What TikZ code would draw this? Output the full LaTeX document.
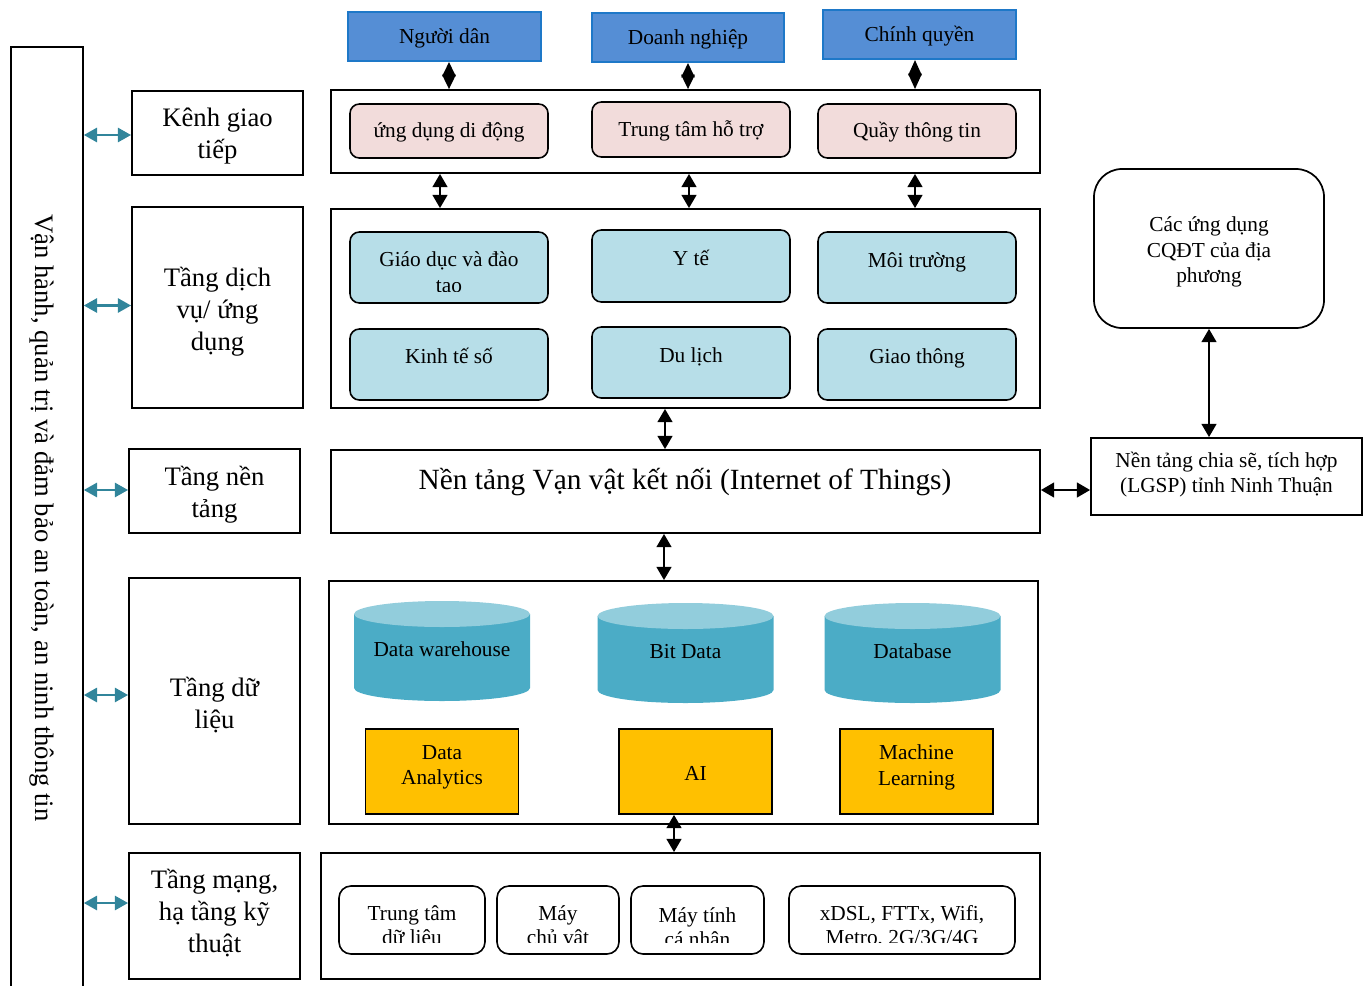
\documentclass[tikz,border=0pt]{standalone}
\usepackage{fontspec}
\setmainfont{Liberation Serif}
\usetikzlibrary{arrows.meta,calc}
\definecolor{bluefill}{RGB}{85,142,213}
\definecolor{blueline}{RGB}{30,120,200}
\definecolor{pinkfill}{RGB}{242,220,219}
\definecolor{lbfill}{RGB}{183,222,232}
\definecolor{cylbody}{RGB}{75,172,198}
\definecolor{cyltop}{RGB}{146,205,220}
\definecolor{orangefill}{RGB}{255,192,0}
\definecolor{tealarr}{RGB}{49,133,155}
\tikzset{
  wh/.style 2 args={minimum width=#1*0.75pt, minimum height=#2*0.75pt},
  box/.style={draw, line width=1.3pt, inner sep=0pt, align=center},
  f16/.style={font=\fontsize{16}{19}\selectfont, align=center, inner sep=0pt},
  f16b/.style={font=\fontsize{16}{18}\selectfont, align=center, inner sep=0pt},
  f20/.style={font=\fontsize{20}{24}\selectfont, align=center, inner sep=0pt},
  bluebox/.style={draw=blueline, fill=bluefill, line width=1.5pt, inner sep=0pt},
  pinkbox/.style={draw, fill=pinkfill, line width=1.2pt, rounded corners=7pt, inner sep=0pt},
  lbbox/.style={draw, fill=lbfill, line width=1.2pt, rounded corners=7pt, inner sep=0pt},
  whbox/.style={draw, fill=white, line width=1.2pt, rounded corners=9pt, inner sep=0pt},
  orbox/.style={draw, fill=orangefill, line width=1.2pt, inner sep=0pt},
  barr/.style={{Triangle[width=11pt,length=10pt]}-{Triangle[width=11pt,length=10pt]}, line width=2pt},
  darr/.style={{Triangle[width=10pt,length=10.8pt]}-{Triangle[width=10pt,length=10.8pt]}, line width=1.5pt},
  tarrow/.style={{Triangle[width=10.5pt,length=10pt]}-{Triangle[width=10.5pt,length=10pt]}, line width=2.2pt, draw=tealarr}
}
\begin{document}
\begin{tikzpicture}[x=0.75pt,y=-0.75pt]
\useasboundingbox (0,0) rectangle (1363,985);

% left vertical bar
\node[box, wh={72}{980}, anchor=north west] (bar) at (10,46) {};
\node[rotate=-90, font=\fontsize{20}{24}\selectfont, inner sep=0pt] (bartext) at (42,518) {Vận hành, quản trị và đảm bảo an toàn, an ninh thông tin};

% layer labels
\node[box, wh={171}{84}] (kenh) at (217.5,133) {};
\node[box, wh={171}{201}] (dichvu) at (217.5,307.5) {};
\node[box, wh={171}{84}] (nen) at (214.5,491) {};
\node[box, wh={171}{246}] (dulieu) at (214.5,701) {};
\node[box, wh={171}{126}] (mang) at (214.5,916) {};
\node[f20] (kenht) at ($(kenh.center)+(0,3.5)$) {Kênh giao\\tiếp};
\node[f20] (dichvut) at ($(dichvu.center)+(0,4)$) {Tầng dịch\\vụ/ ứng\\dụng};
\node[f20] (nent) at ($(nen.center)+(0,3.5)$) {Tầng nền\\tảng};
\node[f20] (dulieut) at ($(dulieu.center)+(0,4)$) {Tầng dữ\\liệu};
\node[f20] (mangt) at ($(mang.center)+(0,-3)$) {Tầng mạng,\\hạ tầng kỹ\\thuật};

\coordinate (kenhA) at ($(kenh.west)+(0,2)$);
\coordinate (dichvuA) at ($(dichvu.west)+(0,-2)$);
\coordinate (nenA) at ($(nen.west)+(0,-1)$);
\coordinate (dulieuA) at ($(dulieu.west)+(0,-6)$);
\coordinate (mangA) at ($(mang.west)+(0,-13)$);
\foreach \c in {kenhA,dichvuA,nenA,dulieuA,mangA}
  \draw[tarrow] (bar.east |- \c) -- (\c);

% top actors
\node[bluebox, wh={193}{49}] (nguoidan) at (444.5,36.5) {};
\node[bluebox, wh={192}{49}] (doanhnghiep) at (688,37.5) {};
\node[bluebox, wh={193}{49}] (chinhquyen) at (919.5,34.5) {};
\node[f16] (nguoidant) at ($(nguoidan.center)+(0,2)$) {Người dân};
\node[f16] (doanhnghiept) at ($(doanhnghiep.center)+(0,2)$) {Doanh nghiệp};
\node[f16] (chinhquyent) at ($(chinhquyen.center)+(0,2)$) {Chính quyền};

% channel layer
\node[box, wh={709}{83}] (kenhbox) at (685.5,131.5) {};
\node[pinkbox, wh={198}{54}] (app) at (449,131) {};
\node[pinkbox, wh={198}{55}] (ttht) at (691,129.5) {};
\node[pinkbox, wh={198}{54}] (quay) at (917,131) {};
\node[f16] (appt) at ($(app.center)+(0,1)$) {ứng dụng di động};
\node[f16] (ttht-t) at ($(ttht.center)+(0,1)$) {Trung tâm hỗ trợ};
\node[f16] (quayt) at ($(quay.center)+(0,1)$) {Quầy thông tin};

\draw[darr] (app |- nguoidan.south) -- (app |- kenhbox.north);
\draw[darr] (doanhnghiep.south) -- (doanhnghiep.south |- kenhbox.north);
\draw[darr, {Triangle[width=10pt,length=11.6pt]}-{Triangle[width=10pt,length=11.6pt]}] ($(quay |- chinhquyen.south)+(-2,0)$) -- ($(quay |- kenhbox.north)+(-2,0)$);

% service layer
\node[box, wh={709}{199}] (dvbox) at (685.5,308.5) {};
\draw[barr] ($(app |- kenhbox.south)+(-9,0)$) -- ($(app |- dvbox.north)+(-9,0)$);
\draw[barr] ($(ttht |- kenhbox.south)+(-2,0)$) -- ($(ttht |- dvbox.north)+(-2,0)$);
\draw[barr] ($(quay |- kenhbox.south)+(-2,0)$) -- ($(quay |- dvbox.north)+(-2,0)$);

\node[lbbox, wh={198}{71}] (gd) at (449,267.5) {};
\node[lbbox, wh={198}{72}] (yte) at (691,266) {};
\node[lbbox, wh={198}{71}] (mt) at (917,267.5) {};
\node[lbbox, wh={198}{71}] (kt) at (449,364.5) {};
\node[lbbox, wh={198}{71}] (dl) at (691,362.5) {};
\node[lbbox, wh={198}{71}] (gt) at (917,364.5) {};
\begin{scope}
  \clip (gd.north west) rectangle ($(gd.south east)+(0,-12)$);
  \node[f16] (gdt) at ($(gd.center)+(0,6.5)$) {Giáo dục và đào\\tạo};
\end{scope}
\node[f16] (ytet) at ($(yte.center)+(0,-8)$) {Y tế};
\node[f16] (mtt) at ($(mt.center)+(0,-5.5)$) {Môi trường};
\node[f16] (ktt) at ($(kt.center)+(0,-8.5)$) {Kinh tế số};
\node[f16] (dlt) at ($(dl.center)+(0,-5.5)$) {Du lịch};
\node[f16] (gtt) at ($(gt.center)+(0,-6.5)$) {Giao thông};

% IoT platform
\node[box, wh={709}{83}] (iot) at (685.5,491.5) {};
\node[font=\fontsize{22}{26}\selectfont, inner sep=0pt] (iott) at (685,482) {Nền tảng Vạn vật kết nối (Internet of Things)};
\draw[barr] ($(dvbox.south)+(-20.5,0)$) -- ($(iot.north)+(-20.5,0)$);

% data layer
\node[box, wh={709}{243}] (databox) at (683.5,702.5) {};
\draw[barr] ($(iot.south)+(-21.5,0)$) -- ($(databox.north)+(-19.5,0)$);
\foreach \cx/\ty in {442/614,685.5/616,912.5/616}{
  \fill[cylbody] (\cx-88,\ty) -- (\cx-88,\ty+74) arc[start angle=180,end angle=0,x radius=88,y radius=13] -- (\cx+88,\ty) -- cycle;
  \fill[cyltop] (\cx,\ty) ellipse[x radius=88, y radius=13];
}
\node[f16] (dw) at (442,649) {Data warehouse};
\node[f16] (bd) at (685.5,652) {Bit Data};
\node[f16] (db) at (912.5,651) {Database};
\node[orbox, wh={153}{85}] (da) at (442,771.5) {};
\node[orbox, wh={153}{85}] (ai) at (695.5,771.5) {};
\node[orbox, wh={153}{85}] (ml) at (916.5,771.5) {};
\node[f16] (dat) at ($(da.center)+(0,-4)$) {Data\\Analytics};
\node[f16] (ait) at ($(ai.center)+(0,2)$) {AI};
\node[f16] (mlt) at ($(ml.center)+(0,-4)$) {Machine\\Learning};

% network layer
\node[box, wh={719}{126}] (netbox) at (680.5,916) {};
\draw[barr] ($(ai.south)+(-21.5,0)$) -- ($(ai.south |- netbox.north)+(-21.5,0)$);
\node[whbox, wh={146}{68}] (ttdl) at (412,920) {};
\node[whbox, wh={122}{68}] (maychu) at (558,920) {};
\node[whbox, wh={133}{68}] (maytinh) at (697.5,920) {};
\node[whbox, wh={226}{68}] (xdsl) at (902,920) {};
\begin{scope}
  \clip (ttdl.north west) rectangle ($(xdsl.south east)+(0,-12)$);
  \node[f16b] (ttdlt) at ($(ttdl.center)+(0,7)$) {Trung tâm\\dữ liệu};
  \node[f16b] (maychut) at ($(maychu.center)+(0,7)$) {Máy\\chủ vật};
  \node[f16b] (maytinht) at ($(maytinh.center)+(0,7)$) {Máy tính\\cá nhân};
  \node[f16b] (xdslt) at ($(xdsl.center)+(0,7)$) {xDSL, FTTx, Wifi,\\Metro, 2G/3G/4G};
\end{scope}

% right side
\node[box, rounded corners=21pt, wh={230}{159}] (cqdt) at (1209,248.5) {};
\node[f16] (cqdtt) at ($(cqdt.center)+(0,3.5)$) {Các ứng dụng\\CQĐT của địa\\phương};
\node[box, wh={271}{77}] (lgsp) at (1226.5,476.5) {};
\node[f16] (lgspt) at ($(lgsp.center)+(0,-2)$) {Nền tảng chia sẽ, tích hợp\\(LGSP) tỉnh Ninh Thuận};
\draw[barr] (cqdt.south) -- (cqdt.south |- lgsp.north);
\draw[barr] ($(iot.east)+(0,-1.5)$) -- ($(iot.east -| lgsp.west)+(0,-1.5)$);
\end{tikzpicture}
\end{document}
